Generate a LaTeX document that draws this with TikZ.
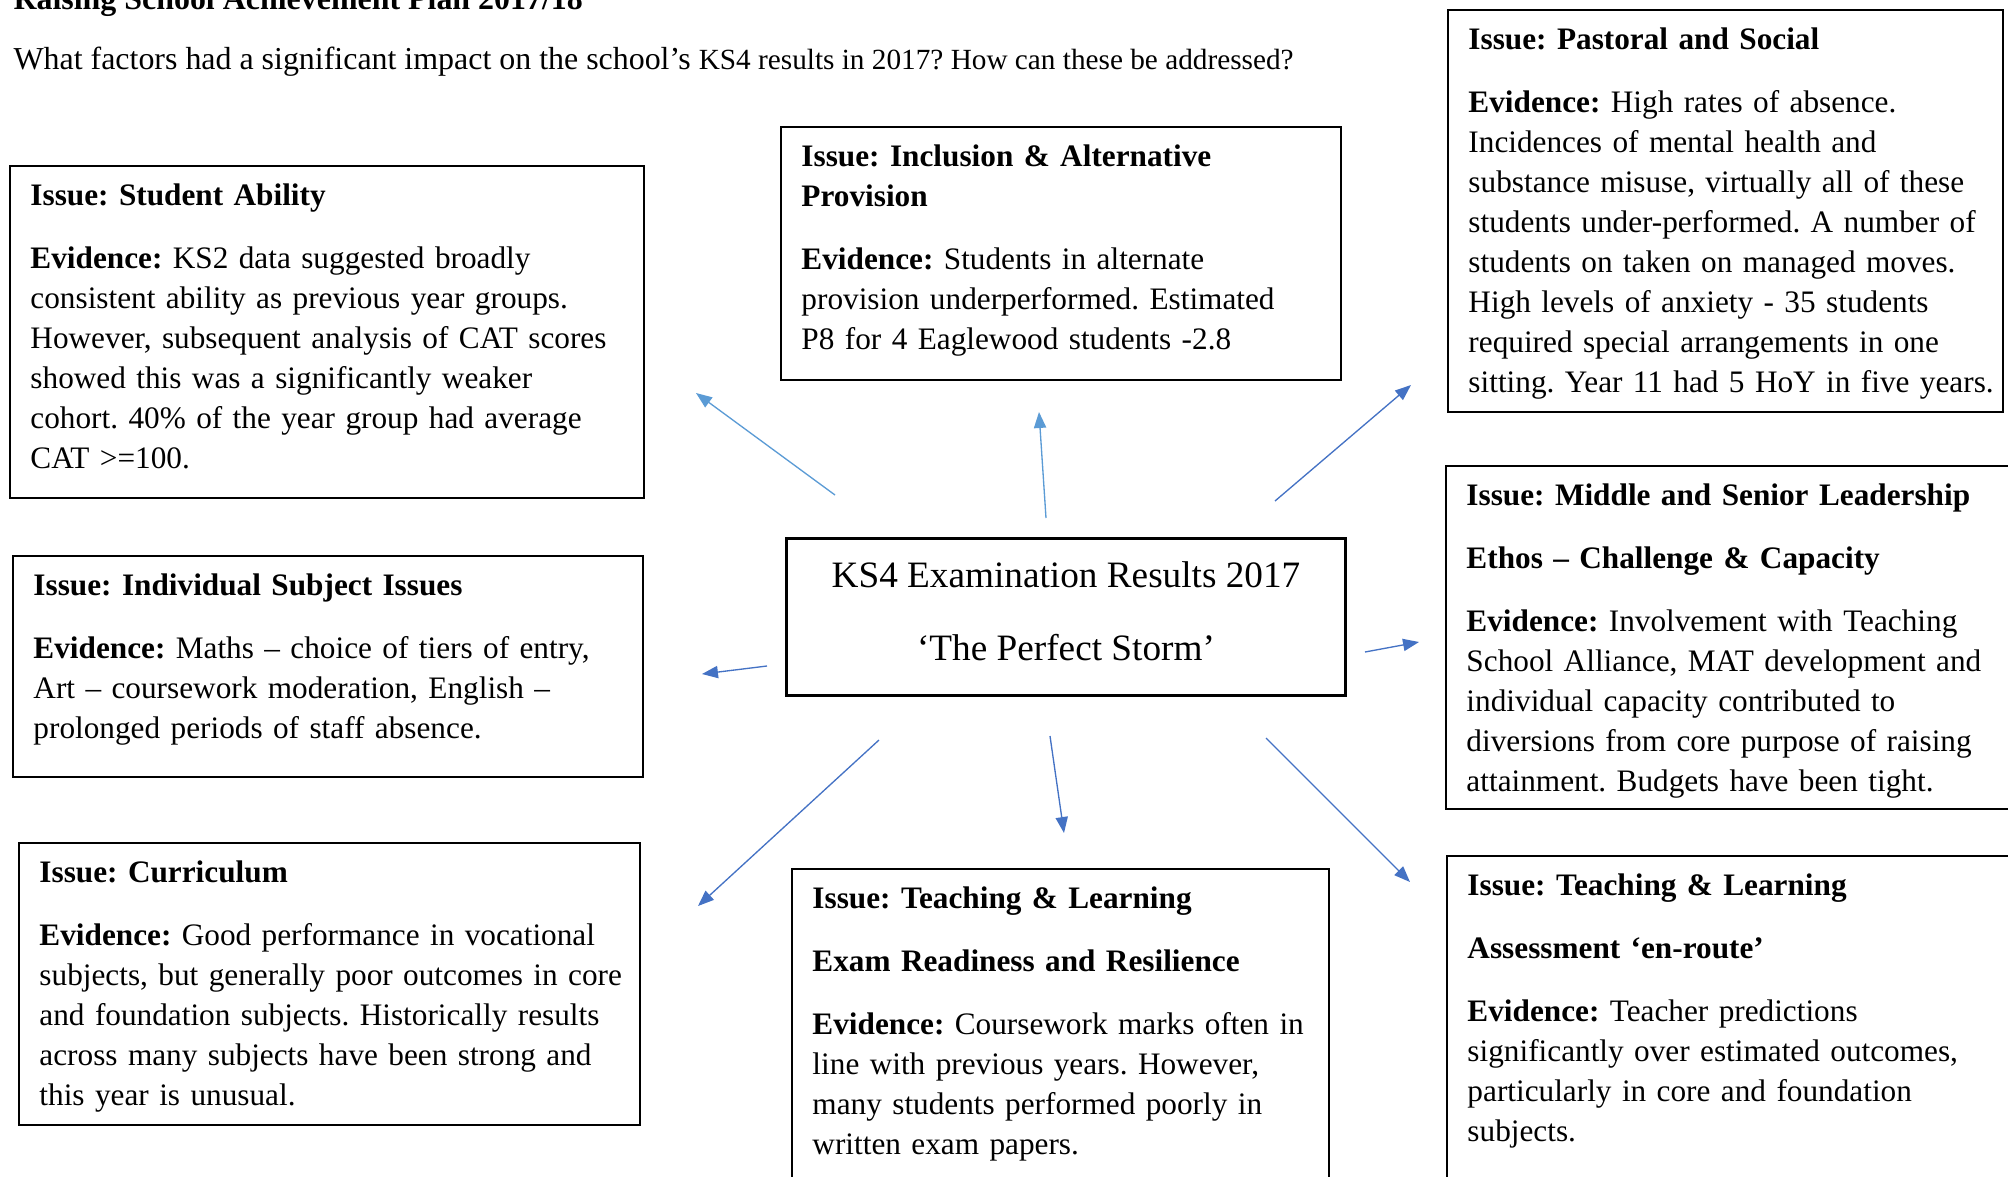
\documentclass[tikz,border=0pt]{standalone}
\usepackage{fontspec}
\setmainfont{Liberation Serif}
\usepackage{tikz}
\usetikzlibrary{%
  positioning
 ,fit
 ,arrows.meta
}
\frenchspacing
\definecolor{lblue}{HTML}{5B9BD5}
\definecolor{dblue}{HTML}{4472C4}
\tikzstyle{box}=[draw=black,line width=0.75pt,inner sep=0pt,outer sep=0pt]
\tikzstyle{txt}=[inner sep=0pt,outer sep=0pt,text width=262pt,align=left]
\tikzstyle{ctr}=[draw=black,line width=1.1pt,inner sep=0pt,outer sep=0pt,
  minimum width=210.1pt,minimum height=59pt]
\tikzstyle{ctxt}=[inner sep=0pt,align=center,font=\fontsize{14pt}{17.4pt}\selectfont]
\tikzstyle{arr}=[line width=0.5pt,-{Triangle[length=6pt,width=4.6pt]}]

\begin{document}
\begin{tikzpicture}[x=0.3759pt,y=-0.3759pt,font=\fontsize{11.75pt}{15pt}\selectfont]
  \useasboundingbox (0,0) rectangle (2008,1176);
  \clip (0,0) rectangle (2008,1176);
  \node[anchor=base west,inner sep=0pt,font=\fontsize{12pt}{14.9pt}\selectfont\bfseries] (ttl) at (13,9)
    {Raising School Achievement Plan 2017/18};
  \node[anchor=base west,inner sep=0pt,font=\fontsize{12pt}{14.9pt}\selectfont] (sub) at (13,69)
    {What factors had a significant impact on the school’s {\fontsize{11pt}{13pt}\selectfont KS4 results in 2017? How can these be addressed?}};
% boxes
  \node[box,fit={(10,166) (644,498)}]    (sa)  {};
  \node[box,fit={(13,556) (643,777)}]    (isi) {};
  \node[box,fit={(19,843) (640,1125)}]   (cur) {};
  \node[box,fit={(781,127) (1341,380)}]  (inc) {};
  \node[box,fit={(792,869) (1329,1200)}] (tle) {};
  \node[box,fit={(1448,10) (2003,412)}]  (pas) {};
  \node[box,fit={(1446,466) (2020,809)}] (msl) {};
  \node[box,fit={(1447,856) (2020,1200)}] (tla) {};
  \node[ctr] (res) at (1066,617) {};
  \node[ctxt] (res_t) at ([yshift=2pt]res.center)
    {KS4 Examination Results 2017\\[10pt]‘The Perfect Storm’};
% texts
  \node[txt,below right=4.5pt and 7.7pt of sa.north west] (sa_t)
    {\strut\textbf{Issue: Student Ability}\\[8.6pt]
     \textbf{Evidence:} KS2 data suggested broadly\\
     consistent ability as previous year groups.\\
     However, subsequent analysis of CAT scores\\
     showed this was a significantly weaker\\
     cohort. 40\% of the year group had average\\
     CAT >=100.};
  \node[txt,below right=4.5pt and 7.7pt of isi.north west] (isi_t)
    {\strut\textbf{Issue: Individual Subject Issues}\\[8.6pt]
     \textbf{Evidence:} Maths – choice of tiers of entry,\\
     Art – coursework moderation, English –\\
     prolonged periods of staff absence.};
  \node[txt,below right=4.5pt and 7.7pt of cur.north west] (cur_t)
    {\strut\textbf{Issue: Curriculum}\\[8.6pt]
     \textbf{Evidence:} Good performance in vocational\\
     subjects, but generally poor outcomes in core\\
     and foundation subjects. Historically results\\
     across many subjects have been strong and\\
     this year is unusual.};
  \node[txt,below right=4.5pt and 7.7pt of inc.north west] (inc_t)
    {\strut\textbf{Issue: Inclusion \& Alternative}\\
     \textbf{Provision}\\[8.6pt]
     \textbf{Evidence:} Students in alternate\\
     provision underperformed. Estimated\\
     P8 for 4 Eaglewood students -2.8};
  \node[txt,below right=4.5pt and 7.7pt of tle.north west] (tle_t)
    {\strut\textbf{Issue: Teaching \& Learning}\\[8.6pt]
     \textbf{Exam Readiness and Resilience}\\[8.6pt]
     \textbf{Evidence:} Coursework marks often in\\
     line with previous years. However,\\
     many students performed poorly in\\
     written exam papers.};
  \node[txt,below right=4.5pt and 7.7pt of pas.north west] (pas_t)
    {\strut\textbf{Issue: Pastoral and Social}\\[8.6pt]
     \textbf{Evidence:} High rates of absence.\\
     Incidences of mental health and\\
     substance misuse, virtually all of these\\
     students under-performed. A number of\\
     students on taken on managed moves.\\
     High levels of anxiety - 35 students\\
     required special arrangements in one\\
     sitting. Year 11 had 5 HoY in five years.};
  \node[txt,below right=4.5pt and 7.7pt of msl.north west] (msl_t)
    {\strut\textbf{Issue: Middle and Senior Leadership}\\[8.6pt]
     \textbf{Ethos – Challenge \& Capacity}\\[8.6pt]
     \textbf{Evidence:} Involvement with Teaching\\
     School Alliance, MAT development and\\
     individual capacity contributed to\\
     diversions from core purpose of raising\\
     attainment. Budgets have been tight.};
  \node[txt,below right=4.5pt and 7.7pt of tla.north west] (tla_t)
    {\strut\textbf{Issue: Teaching \& Learning}\\[8.6pt]
     \textbf{Assessment ‘en-route’}\\[8.6pt]
     \textbf{Evidence:} Teacher predictions\\
     significantly over estimated outcomes,\\
     particularly in core and foundation\\
     subjects.};
% arrows
  \coordinate (f_1) at (835,495);  \coordinate (t_1) at (696,393);
  \coordinate (f_2) at (1046,518); \coordinate (t_2) at (1039,412);
  \coordinate (f_3) at (1275,501); \coordinate (t_3) at (1411,385);
  \coordinate (f_4) at (767,666);  \coordinate (t_4) at (702,674);
  \coordinate (f_5) at (1365,652); \coordinate (t_5) at (1419,642);
  \coordinate (f_6) at (879,740);  \coordinate (t_6) at (698,906);
  \coordinate (f_7) at (1050,736); \coordinate (t_7) at (1064,833);
  \coordinate (f_8) at (1266,738); \coordinate (t_8) at (1410,882);
  \draw[arr,lblue] (f_1) -- (t_1);
  \draw[arr,lblue] (f_2) -- (t_2);
  \draw[arr,dblue] (f_3) -- (t_3);
  \draw[arr,dblue] (f_4) -- (t_4);
  \draw[arr,dblue] (f_5) -- (t_5);
  \draw[arr,dblue] (f_6) -- (t_6);
  \draw[arr,dblue] (f_7) -- (t_7);
  \draw[arr,dblue] (f_8) -- (t_8);
\end{tikzpicture}
\end{document}
